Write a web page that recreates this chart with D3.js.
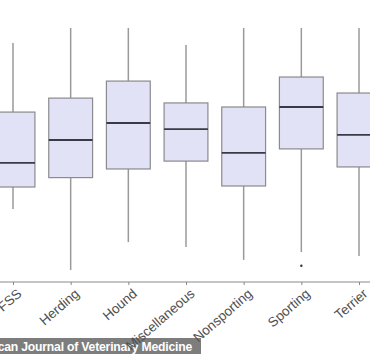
<!DOCTYPE html>
<html><head><meta charset="utf-8">
<script src="https://cdn.jsdelivr.net/npm/d3@7"></script>
<style>body{margin:0;background:#fff}svg{display:block}</style>
</head><body>
<script>
const categories = ["FSS","Herding","Hound","Miscellaneous","Nonsporting","Sporting","Terrier"];
const whiskerHigh = [9.41,10.0,10.0,9.33,10.0,10.0,10.0];
const q3Values    = [6.69,7.24,7.91,7.05,6.89,8.07,7.44];
const medians     = [4.69,5.59,6.26,6.02,5.08,6.89,5.79];
const q1Values    = [3.74,4.11,4.45,4.76,3.78,5.24,4.53];
const whiskerLow  = [2.87,0.47,1.57,1.38,0.87,1.18,1.02];
const outliers    = [{cat:"Sporting", v:0.64}];
const sourceText = "American Journal of Veterinary Medicine";

const W=370,H=354;
const svg=d3.select("body").append("svg").attr("width",W).attr("height",H);
const x=d3.scalePoint().domain(categories).range([13,359]);
const y=d3.scaleLinear().domain([0,10]).range([282,28]);
const bw=x.step()*0.76;

const data=categories.map((c,i)=>({c,hi:whiskerHigh[i],q3:q3Values[i],med:medians[i],q1:q1Values[i],lo:whiskerLow[i]}));

const g=svg.append("g");
const b=g.selectAll("g.box").data(data).join("g");
b.append("line").attr("x1",d=>x(d.c)).attr("x2",d=>x(d.c)).attr("y1",d=>y(d.hi)).attr("y2",d=>y(d.q3))
 .attr("stroke","#9a9a9a").attr("stroke-width",1.5);
b.append("line").attr("x1",d=>x(d.c)).attr("x2",d=>x(d.c)).attr("y1",d=>y(d.q1)).attr("y2",d=>y(d.lo))
 .attr("stroke","#9a9a9a").attr("stroke-width",1.5);
b.append("rect").attr("x",d=>x(d.c)-bw/2).attr("width",bw).attr("y",d=>y(d.q3)).attr("height",d=>y(d.q1)-y(d.q3))
 .attr("fill","#e2e2f6").attr("stroke","#8a8a8f").attr("stroke-width",1.2);
b.append("line").attr("x1",d=>x(d.c)-bw/2).attr("x2",d=>x(d.c)+bw/2).attr("y1",d=>y(d.med)).attr("y2",d=>y(d.med))
 .attr("stroke","#3a3a46").attr("stroke-width",1.8);
g.selectAll("circle.out").data(outliers).join("circle").attr("cx",d=>x(d.cat)).attr("cy",d=>y(d.v)).attr("r",1.2).attr("fill","#333");

// source band
svg.append("rect").attr("x",0).attr("y",338).attr("width",201).attr("height",16).attr("fill","#7d7d7d");
svg.append("text").attr("x",192).attr("y",350.5).attr("text-anchor","end")
 .attr("font-family","Liberation Sans, Arial, sans-serif").attr("font-weight","bold").attr("font-size",12.2)
 .attr("letter-spacing",-0.2)
 .attr("fill","#fff").text(sourceText);

// x axis
const ax=svg.append("g").attr("transform","translate(0,282)").call(d3.axisBottom(x).tickSize(3).tickSizeOuter(0));
ax.select(".domain").attr("d","M0,0H370").attr("stroke","#8a8a8a").attr("stroke-width",1.2);
ax.selectAll(".tick line").attr("stroke","#8a8a8a");
ax.selectAll(".tick text").attr("font-family","Liberation Sans, Arial, sans-serif").attr("font-size",13.5).attr("fill","#505050")
 .attr("text-anchor","end").attr("dy",0).attr("y",0)
 .attr("transform","translate(9,13) rotate(-41)");
</script>
</body></html>
